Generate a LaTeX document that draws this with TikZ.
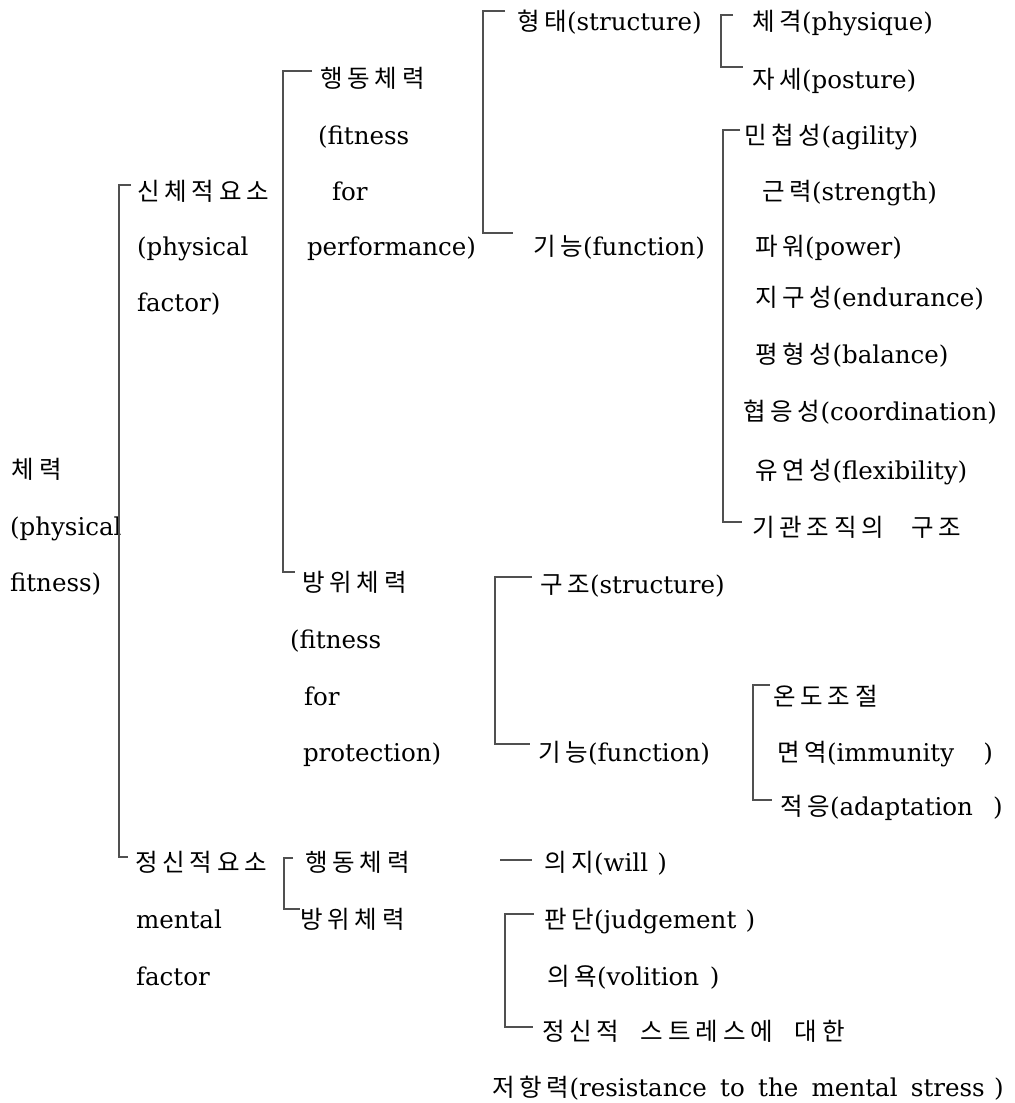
\documentclass[tikz,border=0pt]{standalone}
\usepackage{fontspec}
\setmainfont{DejaVu Serif}
\newfontfamily\krf[Scale=1.0,LetterSpace=20]{Noto Sans CJK KR}
\newcommand\KO[1]{{\krf #1}}
\definecolor{lncol}{HTML}{505050}
\begin{document}
\begin{tikzpicture}[x=0.75pt,y=-0.75pt,
  lbl/.style={inner sep=0pt,outer sep=0pt,anchor=base west,font=\fontsize{18.4}{22}\selectfont},
  brk/.style={draw=lncol,line width=0.8pt}]
\useasboundingbox (0,0) rectangle (1014,1103);

% column 0
\node[lbl] (tl) at (12,478) {\KO{체력}};
\node[lbl] (tp) at (10,535) {(physical};
\node[lbl] (tf) at (10,591) {fitness)};

% column 1
\node[lbl] (sA) at (137,200) {\KO{신체적요소}};
\node[lbl] (sB) at (137,255) {(physical};
\node[lbl] (sC) at (137,311) {factor)};
\node[lbl] (mA) at (135,871) {\KO{정신적요소}};
\node[lbl] (mB) at (136,928) {mental};
\node[lbl] (mC) at (136,985) {factor};

% column 2
\node[lbl] (hA) at (320,87) {\KO{행동체력}};
\node[lbl] (hB) at (318,144) {(fitness};
\node[lbl] (hC) at (332,200) {for};
\node[lbl] (hD) at (307,255) {performance)};
\node[lbl] (bA) at (302,591) {\KO{방위체력}};
\node[lbl] (bB) at (290,648) {(fitness};
\node[lbl] (bC) at (304,705) {for};
\node[lbl] (bD) at (303,761) {protection)};
\node[lbl] (mh) at (305,871) {\KO{행동체력}};
\node[lbl] (mb) at (300,928) {\KO{방위체력}};

% column 3
\node[lbl] (hy) at (517,30) {\KO{형태}(structure)};
\node[lbl] (gn) at (533,255) {\KO{기능}(function)};
\node[lbl] (gu) at (540,593) {\KO{구조}(structure)};
\node[lbl] (gi) at (538,761) {\KO{기능}(function)};
\node[lbl] (w1) at (544,871) {\KO{의지}(will\hspace{7pt})};
\node[lbl] (w2) at (544,928) {\KO{판단}(judgement\hspace{7pt})};
\node[lbl] (w3) at (547,985) {\KO{의욕}(volition\hspace{8pt})};
\node[lbl] (w4) at (542,1040) {\KO{정신적\hspace{16pt}스트레스에\hspace{16pt}대한}};
\node[lbl] (w5) at (492,1096) {\KO{저항력}(resistance\hspace{10pt}to\hspace{10pt}the\hspace{10pt}mental\hspace{10pt}stress\hspace{7pt})};

% column 4
\node[lbl] (c1) at (752,30) {\KO{체격}(physique)};
\node[lbl] (c2) at (752,88) {\KO{자세}(posture)};
\node[lbl] (f1) at (744,144) {\KO{민첩성}(agility)};
\node[lbl] (f2) at (762,200) {\KO{근력}(strength)};
\node[lbl] (f3) at (755,255) {\KO{파워}(power)};
\node[lbl] (f4) at (755,306) {\KO{지구성}(endurance)};
\node[lbl] (f5) at (755,363) {\KO{평형성}(balance)};
\node[lbl] (f6) at (743,420) {\KO{협응성}(coordination)};
\node[lbl] (f7) at (755,479) {\KO{유연성}(flexibility)};
\node[lbl] (f8) at (752,536) {\KO{기관조직의\hspace{20pt}구조}};
\node[lbl] (o1) at (773,705) {\KO{온도조절}};
\node[lbl] (o2) at (777,761) {\KO{면역}(immunity\hspace{22pt})};
\node[lbl] (o3) at (780,815) {\KO{적응}(adaptation\hspace{15pt})};

% bracket corner coordinates
\coordinate (A1) at (131,185); \coordinate (A2) at (119,185);
\coordinate (A3) at (119,857); \coordinate (A4) at (128,857);
\coordinate (B1) at (312,71);  \coordinate (B2) at (283,71);
\coordinate (B3) at (283,572); \coordinate (B4) at (295,572);
\coordinate (C1) at (505,11);  \coordinate (C2) at (483,11);
\coordinate (C3) at (483,233); \coordinate (C4) at (513,233);
\coordinate (D1) at (733,15);  \coordinate (D2) at (721,15);
\coordinate (D3) at (721,67);  \coordinate (D4) at (743,67);
\coordinate (E1) at (740,130); \coordinate (E2) at (723,130);
\coordinate (E3) at (723,522); \coordinate (E4) at (742,522);
\coordinate (F1) at (532,577); \coordinate (F2) at (495,577);
\coordinate (F3) at (495,744); \coordinate (F4) at (530,744);
\coordinate (G1) at (770,685); \coordinate (G2) at (753,685);
\coordinate (G3) at (753,800); \coordinate (G4) at (772,800);
\coordinate (H1) at (293,858); \coordinate (H2) at (284,858);
\coordinate (H3) at (284,909); \coordinate (H4) at (300,909);
\coordinate (I1) at (500,860); \coordinate (I2) at (532,860);
\coordinate (J1) at (534,914); \coordinate (J2) at (505,914);
\coordinate (J3) at (505,1027); \coordinate (J4) at (533,1027);

\draw[brk] (A1) -- (A2) -- (A3) -- (A4);
\draw[brk] (B1) -- (B2) -- (B3) -- (B4);
\draw[brk] (C1) -- (C2) -- (C3) -- (C4);
\draw[brk] (D1) -- (D2) -- (D3) -- (D4);
\draw[brk] (E1) -- (E2) -- (E3) -- (E4);
\draw[brk] (F1) -- (F2) -- (F3) -- (F4);
\draw[brk] (G1) -- (G2) -- (G3) -- (G4);
\draw[brk] (H1) -- (H2) -- (H3) -- (H4);
\draw[brk] (I1) -- (I2);
\draw[brk] (J1) -- (J2) -- (J3) -- (J4);
\end{tikzpicture}
\end{document}
